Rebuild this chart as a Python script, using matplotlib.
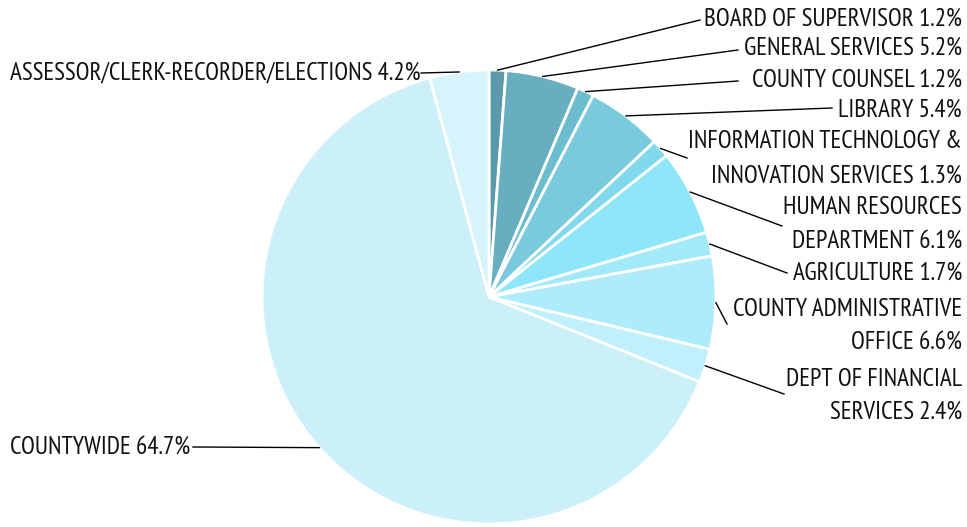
import matplotlib
matplotlib.use("Agg")
import matplotlib.pyplot as plt
import numpy as np

# Datos del grafico
departamentos = ["BOARD OF SUPERVISOR", "GENERAL SERVICES", "COUNTY COUNSEL", "LIBRARY",
                 "INFORMATION TECHNOLOGY & INNOVATION SERVICES", "HUMAN RESOURCES DEPARTMENT",
                 "AGRICULTURE", "COUNTY ADMINISTRATIVE OFFICE", "DEPT OF FINANCIAL SERVICES",
                 "COUNTYWIDE", "ASSESSOR/CLERK-RECORDER/ELECTIONS"]
porcentajes = [1.2, 5.2, 1.2, 5.4, 1.3, 6.1, 1.7, 6.6, 2.4, 64.7, 4.2]
colores = ["#5b9aa8", "#66aec0", "#6dbdd0", "#7acadd", "#82d8ec", "#8ee6fb",
           "#a2eafa", "#aeebfb", "#bff0fb", "#ccf0fa", "#d6f4fb"]

# Lineas de cada etiqueta (texto partido como en la imagen)
etiquetas = [["BOARD OF SUPERVISOR 1.2%"], ["GENERAL SERVICES 5.2%"], ["COUNTY COUNSEL 1.2%"],
             ["LIBRARY 5.4%"], ["INFORMATION TECHNOLOGY &", "INNOVATION SERVICES 1.3%"],
             ["HUMAN RESOURCES", "DEPARTMENT 6.1%"], ["AGRICULTURE 1.7%"],
             ["COUNTY ADMINISTRATIVE", "OFFICE 6.6%"], ["DEPT OF FINANCIAL", "SERVICES 2.4%"],
             ["COUNTYWIDE 64.7%"], ["ASSESSOR/CLERK-RECORDER/ELECTIONS 4.2%"]]

# Posiciones (en pixeles) de las etiquetas y fin de las lineas guia
W, H = 967, 527
cx, cy, R = 489, 297, 227
lado = ["r"] * 9 + ["l", "l"]
y_texto = [[19], [48], [80], [110], [142, 176], [207, 241], [273], [309, 342], [380, 412], [447], [73]]
fin_linea = [(700, 20), (738, 50), (738, 81), (832, 108), (687, 158), (782, 226),
             (787, 273), (727, 324), (784, 394), (193, 447), (421, 73)]

plt.rcParams["font.family"] = ["PT Sans Narrow", "DejaVu Sans"]

fig = plt.figure(figsize=(W / 100, H / 100), dpi=100)
ax = fig.add_axes([0, 0, 1, 1])

ax.pie(porcentajes, colors=colores, startangle=90, counterclock=False,
       center=(cx, H - cy), radius=R,
       wedgeprops=dict(edgecolor="white", linewidth=2))

ax.set_xlim(0, W)
ax.set_ylim(0, H)
ax.set_aspect("equal")
ax.axis("off")

# Lineas guia y textos
inicio = np.cumsum([0] + porcentajes[:-1])
for i, p in enumerate(porcentajes):
    ang = np.deg2rad((inicio[i] + p / 2) / 100 * 360)
    x0 = cx + R * np.sin(ang)
    y0 = cy - R * np.cos(ang)
    x1, y1 = fin_linea[i]
    ax.plot([x0, x1], [H - y0, H - y1], color="black", lw=1)
    for linea, yt in zip(etiquetas[i], y_texto[i]):
        if lado[i] == "r":
            ax.text(962, H - yt, linea, ha="right", va="center", fontsize=18, color="#111111")
        else:
            ax.text(10, H - yt, linea, ha="left", va="center", fontsize=18, color="#111111")

fig.savefig("out.png", dpi=100)
